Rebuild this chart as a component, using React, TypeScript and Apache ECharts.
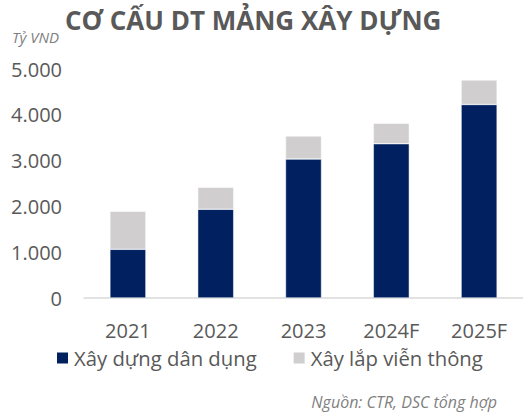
import React, { useEffect, useRef } from "react";
import * as echarts from "echarts";

const categories = ["2021", "2022", "2023", "2024F", "2025F"];
const danDung = [1063, 1937, 3035, 3369, 4225];
const vienThong = [830, 480, 502, 445, 535];
const seriesNames = ["Xây dựng dân dụng", "Xây lắp viễn thông"];
const titleText = "CƠ CẤU DT MẢNG XÂY DỰNG";
const unitText = "Tỷ VND";
const sourceText = "Nguồn: CTR, DSC tổng hợp";

const FONT = "'Open Sans', 'Noto Sans', sans-serif";

export default function App() {
  const ref = useRef<HTMLDivElement>(null);
  useEffect(() => {
    if (!ref.current) return;
    const chart = echarts.init(ref.current, null, { renderer: "svg" });
    chart.setOption({
      animation: false,
      backgroundColor: "#ffffff",
      textStyle: { fontFamily: FONT },
      grid: { left: 84, right: -6, top: 69, bottom: 116, containLabel: false },
      xAxis: {
        type: "category",
        data: categories,
        axisLine: { lineStyle: { color: "#D9D9D9", width: 1.5 } },
        axisTick: { show: false },
        axisLabel: { color: "#595959", fontSize: 20, margin: 22, fontFamily: FONT },
      },
      yAxis: {
        type: "value",
        min: 0,
        max: 5000,
        interval: 1000,
        splitLine: { show: false },
        axisLine: { show: false },
        axisTick: { show: false },
        axisLabel: {
          color: "#595959",
          fontSize: 20,
          margin: 22,
          fontFamily: FONT,
          formatter: (v: number) => (v === 0 ? "0" : v.toLocaleString("de-DE")),
        },
      },
      legend: {
        left: 55,
        top: 348,
        padding: 0,
        itemWidth: 13,
        itemHeight: 13,
        itemGap: 35,
        icon: "rect",
        textStyle: { color: "#595959", fontSize: 20.3, fontFamily: FONT, padding: [0, 0, 0, 0] },
        data: seriesNames,
      },
      series: [
        {
          name: seriesNames[0],
          type: "bar",
          stack: "a",
          data: danDung,
          barWidth: 36,
          itemStyle: { color: "#002060", borderColor: "#ffffff", borderWidth: 0.5 },
        },
        {
          name: seriesNames[1],
          type: "bar",
          stack: "a",
          data: vienThong,
          barWidth: 36,
          itemStyle: { color: "#D0CECE", borderColor: "#ffffff", borderWidth: 0.5 },
        },
      ],
      graphic: [
        {
          type: "text",
          left: 65,
          top: 7,
          style: { text: titleText, fill: "#595959", font: `bold 26px ${FONT}` },
        },
        {
          type: "text",
          left: 12,
          top: 29,
          style: { text: unitText, fill: "#7F7F7F", font: `italic 15px ${FONT}` },
        },
        {
          type: "text",
          right: 26,
          top: 394,
          style: { text: sourceText, fill: "#7F7F7F", font: `italic 16px ${FONT}` },
        },
      ],
    });
    return () => chart.dispose();
  }, []);
  return <div ref={ref} style={{ width: 523, height: 414, position: "absolute", left: 0, top: 0 }} />;
}
